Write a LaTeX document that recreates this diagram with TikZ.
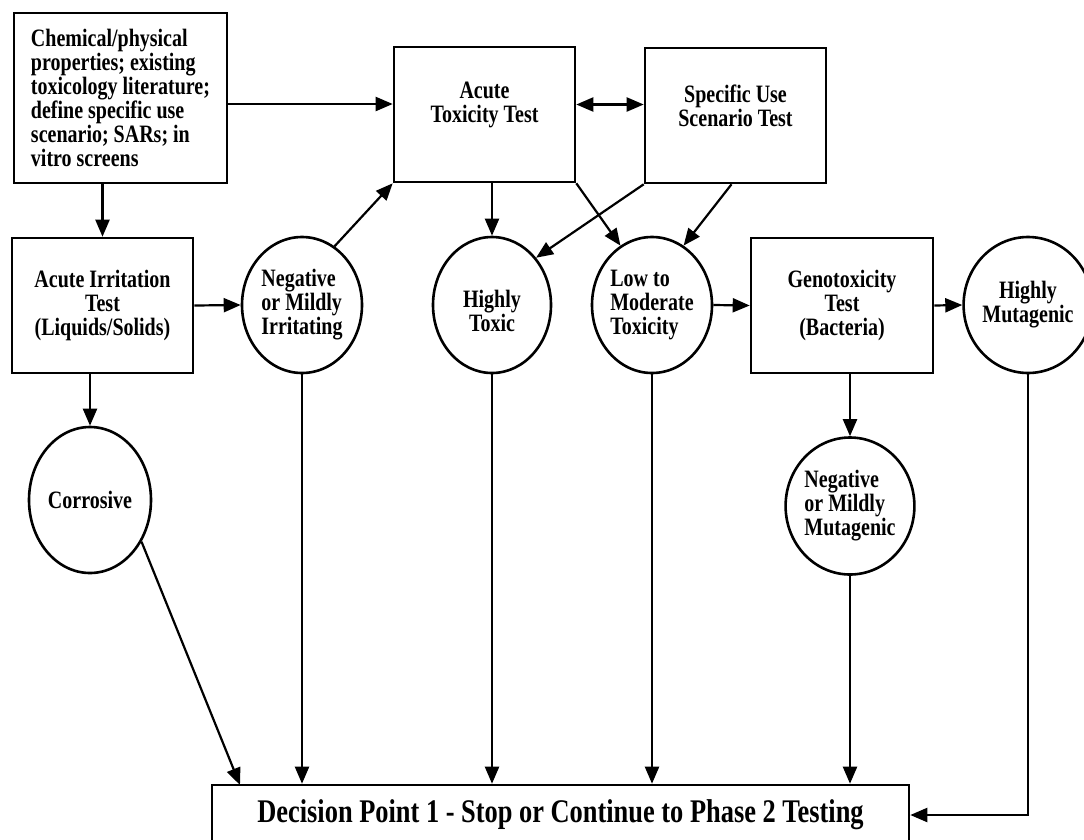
\documentclass[tikz,border=0pt]{standalone}
\usepackage{fontspec}
\setmainfont{Liberation Serif}[FakeStretch=0.8]
\usetikzlibrary{arrows.meta,shapes.geometric}

\begin{document}
\begin{tikzpicture}[x=1pt,y=-1pt,font=\fontsize{25}{24}\selectfont\bfseries,
  box/.style={draw,line width=2.6pt,rectangle,inner sep=0pt,align=center},
  oval/.style={draw,line width=2.6pt,ellipse,inner sep=0pt,minimum width=120pt,minimum height=136pt,align=center},
  arr/.style={line width=2.2pt,-{Triangle[length=17pt,width=14pt]}},
  dbl/.style={line width=2.2pt,{Triangle[length=17pt,width=14pt]}-{Triangle[length=17pt,width=14pt]}}]

\useasboundingbox (0,0) rectangle (1084,839);

\node[box,align=left,minimum width=213pt,minimum height=170pt] (chem) at (120.5,98) {Chemical/physical\\properties; existing\\toxicology literature;\\define specific use\\scenario; SARs; in\\vitro screens};
\node[box,minimum width=181pt,minimum height=135pt,label={[align=center,yshift=10pt]center:Acute\\Toxicity Test}] (acutetox) at (484.5,114.5) {};
\node[box,minimum width=181pt,minimum height=135pt,label={[align=center,yshift=10pt]center:Specific Use\\Scenario Test}] (specuse) at (735.5,115.5) {};

\node[box,minimum width=181pt,minimum height=135pt] (irrit) at (102.5,305.5) {Acute Irritation\\Test\\(Liquids/Solids)};
\node[oval,align=left] (negirr) at (302,305) {Negative\\or Mildly\\Irritating};
\node[oval,minimum width=118pt,label={[align=center,yshift=-6pt]center:Highly\\Toxic}] (hitox) at (492,305) {};
\node[oval,align=left] (lowmod) at (652,305) {Low to\\Moderate\\Toxicity};
\node[box,minimum width=182pt,minimum height=135pt] (genotox) at (842,305.5) {Genotoxicity\\Test\\(Bacteria)};
\node[oval,minimum width=110pt] (himut) at (1028,305) {Highly\\Mutagenic};

\node[oval,minimum width=122pt,minimum height=146pt] (corrosive) at (90,500) {Corrosive};
\node[oval,align=left,minimum width=124pt,minimum height=137pt] (negmut) at (850,506) {Negative\\or Mildly\\Mutagenic};

\node[box,minimum width=697pt,minimum height=60pt,font=\fontsize{33}{36}\selectfont\bfseries] (dec) at (560.5,815) {Decision Point 1 - Stop or Continue to Phase 2 Testing};
\coordinate (corrin) at (240,785);

\draw[arr] ([yshift=-6pt]chem.east) -- ([yshift=-6pt]chem.east -| acutetox.west);
\draw[dbl] ([yshift=10pt]acutetox.east) -- ([yshift=10pt]acutetox.east -| specuse.west);
\draw[arr] (irrit.north |- chem.south) -- (irrit.north);
\draw[arr] (irrit.east) -- (negirr.west);
\draw[arr] (corrosive.north |- irrit.south) -- (corrosive.north);
\draw[arr] (negirr.61) -- (acutetox.south west);
\draw[arr] (hitox.north |- acutetox.south) -- (hitox.north);
\draw[arr] (acutetox.south east) -- (lowmod.118);
\draw[arr] (specuse.south west) -- (hitox.47);
\draw[arr] ([xshift=-4pt]specuse.south) -- (lowmod.62);
\draw[arr] (lowmod.east) -- (genotox.west);
\draw[arr] (genotox.east) -- (himut.west);
\draw[arr] (negmut.north |- genotox.south) -- (negmut.north);

\draw[arr] (corrosive.-39) -- (corrin);
\draw[arr] (negirr.south) -- (negirr.south |- dec.north);
\draw[arr] (hitox.south) -- (hitox.south |- dec.north);
\draw[arr] (lowmod.south) -- (lowmod.south |- dec.north);
\draw[arr] (negmut.south) -- (negmut.south |- dec.north);
\draw[arr] (himut.south) |- (dec.east);
\end{tikzpicture}
\end{document}
